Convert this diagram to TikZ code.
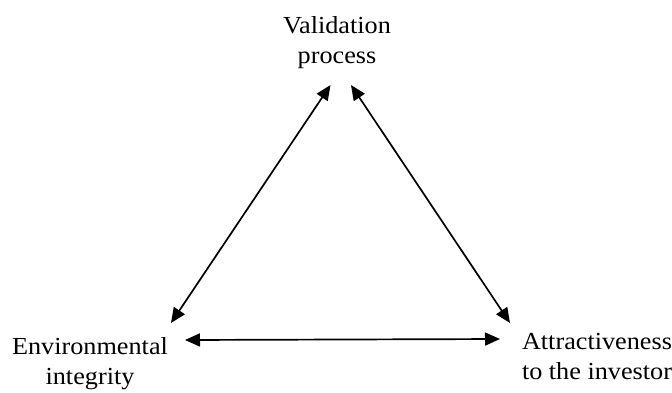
\documentclass[tikz,border=0pt]{standalone}
\usepackage{fontspec}
\setmainfont{Liberation Serif}[FakeStretch=1.07]
\usetikzlibrary{arrows.meta}
\begin{document}
\begin{tikzpicture}[x=1pt,y=-1pt,
  lbl/.style={align=center, font=\fontsize{24.5}{30}\selectfont, inner sep=0pt, anchor=base},
  link/.style={{Triangle[length=15pt,width=13pt]}-{Triangle[length=15pt,width=13pt]}, line width=1.7pt}]
\useasboundingbox (0,0) rectangle (672,392);

% the three corners of the triangle (anchor = baseline of the last line)
\node[lbl] (val) at (337,63) {Validation\\process};
\node[lbl] (env) at (90,384) {Environmental\\integrity};
\node[lbl] (att) at (597,379) {Attractiveness\\to the investor};

% arrow end points beside each label
\coordinate (vl) at (330.5,85);
\coordinate (vr) at (351,85);
\coordinate (eu) at (171,323);
\coordinate (eh) at (185,340);
\coordinate (au) at (510,323);
\coordinate (ah) at (500,339);

\draw[link] (vl) -- (eu);
\draw[link] (vr) -- (au);
\draw[link] (eh) -- (ah);
\end{tikzpicture}
\end{document}
